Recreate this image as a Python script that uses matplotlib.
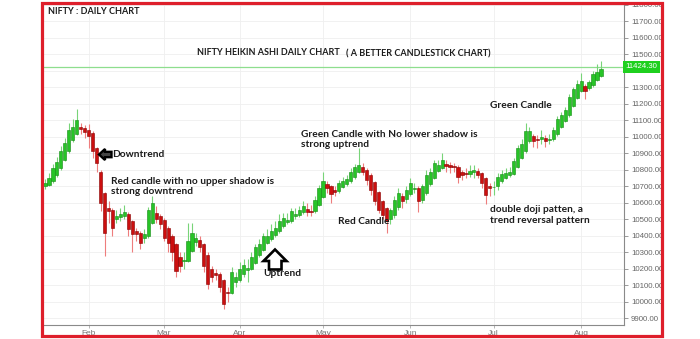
import numpy as np
import pandas as pd
import matplotlib
matplotlib.use("Agg")
import matplotlib.pyplot as plt
from matplotlib.patches import Rectangle, Polygon
from matplotlib.ticker import FixedLocator, FuncFormatter

# ---------------- data ----------------
holidays = ["2018-01-26", "2018-02-13", "2018-03-02", "2018-03-29", "2018-03-30", "2018-05-01"]
dates = pd.bdate_range("2018-01-16", "2018-08-08", freq="C", holidays=holidays)

ha_open = [10700, 10711, 10730, 10770, 10810, 10862, 10913, 10979, 11020, 11060,
           11055, 11042, 11025, 10930, 10790, 10660, 10570, 10560, 10505, 10512,
           10522, 10535, 10488, 10430, 10418, 10386, 10400, 10480, 10540, 10520,
           10497, 10445, 10400, 10350, 10270, 10245, 10250, 10310, 10365, 10378,
           10354, 10287, 10200, 10175, 10168, 10130, 10060, 10056, 10118, 10134,
           10167, 10195, 10200, 10235, 10282, 10316, 10358, 10379, 10405, 10427,
           10460, 10485, 10490, 10520, 10527, 10543, 10562, 10553, 10549, 10585,
           10637, 10715, 10702, 10678, 10673, 10696, 10715, 10730, 10760, 10788,
           10815, 10802, 10771, 10725, 10668, 10612, 10568, 10500, 10527, 10573,
           10640, 10625, 10652, 10686, 10689, 10620, 10660, 10715, 10752, 10796,
           10813, 10838, 10831, 10826, 10820, 10790, 10780, 10777, 10786, 10793,
           10782, 10751, 10700, 10694, 10700, 10730, 10754, 10767, 10778, 10816,
           10873, 10916, 10975, 11005, 10990, 10986, 10993, 10984, 10987, 11016,
           11063, 11099, 11132, 11188, 11239, 11280, 11310, 11295, 11315, 11348,
           11372]
ha_close = [10722, 10750, 10810, 10850, 10915, 10965, 11045, 11060, 11100, 11050,
            11030, 11008, 10915, 10840, 10600, 10420, 10550, 10445, 10520, 10532,
            10548, 10440, 10410, 10410, 10355, 10410, 10560, 10600, 10500, 10475,
            10390, 10360, 10300, 10190, 10220, 10252, 10370, 10420, 10390, 10330,
            10220, 10110, 10150, 10162, 10090, 9990, 10052, 10180, 10150, 10200,
            10222, 10205, 10270, 10330, 10350, 10400, 10400, 10430, 10450, 10490,
            10510, 10495, 10550, 10535, 10560, 10580, 10545, 10545, 10620, 10690,
            10735, 10690, 10655, 10668, 10720, 10733, 10745, 10790, 10815, 10830,
            10790, 10740, 10680, 10610, 10555, 10525, 10492, 10555, 10620, 10660,
            10610, 10680, 10720, 10692, 10610, 10700, 10770, 10790, 10840, 10830,
            10862, 10825, 10820, 10815, 10760, 10770, 10776, 10795, 10800, 10770,
            10720, 10650, 10693, 10697, 10760, 10778, 10780, 10790, 10855, 10930,
            10960, 11035, 11035, 10975, 10982, 11000, 10975, 10990, 11045, 11110,
            11135, 11165, 11245, 11290, 11320, 11340, 11280, 11335, 11380, 11395,
            11410]
ha_high = [10745, 10780, 10835, 10880, 10945, 10995, 11085, 11110, 11170, 11085,
           11075, 11080, 11035, 10940, 10800, 10665, 10610, 10570, 10560, 10570,
           10590, 10545, 10495, 10445, 10430, 10440, 10575, 10640, 10580, 10530,
           10510, 10460, 10410, 10360, 10300, 10300, 10480, 10480, 10420, 10400,
           10360, 10300, 10220, 10200, 10180, 10140, 10090, 10210, 10180, 10240,
           10260, 10260, 10300, 10350, 10380, 10420, 10440, 10470, 10490, 10530,
           10540, 10540, 10570, 10570, 10580, 10610, 10600, 10590, 10640, 10710,
           10785, 10730, 10710, 10700, 10740, 10760, 10770, 10810, 10835, 10930,
           10840, 10810, 10780, 10735, 10675, 10620, 10575, 10570, 10640, 10690,
           10660, 10700, 10750, 10720, 10700, 10715, 10800, 10810, 10860, 10860,
           10900, 10860, 10850, 10840, 10830, 10800, 10810, 10830, 10830, 10810,
           10790, 10760, 10720, 10730, 10780, 10800, 10810, 10815, 10870, 10950,
           10990, 11085, 11060, 11015, 11010, 11040, 11010, 11020, 11060, 11130,
           11150, 11180, 11260, 11305, 11345, 11385, 11320, 11345, 11400, 11440,
           11460]
ha_low = [10685, 10700, 10720, 10760, 10800, 10855, 10905, 10970, 11010, 11020,
          10995, 10930, 10870, 10790, 10550, 10280, 10480, 10400, 10480, 10490,
          10500, 10400, 10300, 10370, 10320, 10360, 10390, 10470, 10480, 10440,
          10370, 10300, 10250, 10150, 10180, 10200, 10240, 10300, 10340, 10300,
          10180, 10080, 10120, 10130, 10060, 9960, 10000, 10045, 10090, 10120,
          10150, 10120, 10195, 10230, 10275, 10310, 10350, 10370, 10395, 10420,
          10450, 10470, 10480, 10505, 10515, 10535, 10520, 10520, 10540, 10580,
          10630, 10660, 10600, 10640, 10660, 10690, 10700, 10720, 10745, 10780,
          10770, 10710, 10650, 10590, 10540, 10500, 10420, 10470, 10510, 10560,
          10570, 10600, 10640, 10660, 10545, 10600, 10650, 10705, 10745, 10785,
          10805, 10790, 10780, 10790, 10720, 10740, 10750, 10760, 10750, 10750,
          10690, 10595, 10640, 10650, 10680, 10720, 10745, 10760, 10770, 10810,
          10865, 10905, 10965, 10940, 10935, 10960, 10940, 10960, 10975, 11005,
          11055, 11090, 11120, 11180, 11230, 11270, 11233, 11285, 11305, 11340,
          11365]

month_labels = ["Feb", "Mar", "Apr", "May", "Jun", "Jul", "Aug"]
price_ticks = [9900, 10000, 10100, 10200, 10300, 10400, 10500, 10600, 10700, 10800,
               10900, 11000, 11100, 11200, 11300, 11400, 11500, 11600, 11700, 11800]
last_price = 11424.30

# ---------------- figure ----------------
W, H = 700, 339
fig = plt.figure(figsize=(W / 100, H / 100), dpi=100)
fig.patch.set_facecolor("white")


def fx(px):
    return px / W


def fy(py):
    return 1 - py / H


ax = fig.add_axes([fx(43), fy(325), (624 - 43) / W, (325 - 3) / H])

x = np.arange(len(dates))
o = np.array(ha_open, dtype=float)
c = np.array(ha_close, dtype=float)
h = np.array(ha_high, dtype=float)
l = np.array(ha_low, dtype=float)
up = c >= o

body_col = np.where(up, "#27c427", "#cc0f0f")
edge_col = np.where(up, "#148a14", "#850000")
wick_col = np.where(up, "#78d478", "#ee7d7d")

ax.vlines(x, l, h, colors=wick_col, lw=0.8, zorder=2)
ax.bar(x, np.maximum(np.abs(c - o), 3), bottom=np.minimum(o, c), width=0.8,
       color=body_col, edgecolor=edge_col, linewidth=0.4, zorder=3)

ax.axhline(last_price, color="#8ede8e", lw=0.9, zorder=1)
ax.text(1.003, last_price, f"{last_price:.2f}", transform=ax.get_yaxis_transform(),
        ha="left", va="center", fontsize=5.6, color="white", family="Liberation Sans",
        bbox=dict(boxstyle="square,pad=0.3", fc="#1fd01f", ec="none"), clip_on=False, zorder=5)

ax.set_xlim(-0.5, 145.8)
ax.set_ylim(9860, 11812)

names = list(dates.strftime("%b"))
month_pos = [names.index(m) for m in month_labels]
ax.xaxis.set_major_locator(FixedLocator(month_pos))
ax.set_xticklabels(month_labels)
ax.yaxis.set_major_locator(FixedLocator(price_ticks))
# the tick label hidden behind the last-price box is left blank
ax.yaxis.set_major_formatter(FuncFormatter(
    lambda v, p: "" if abs(v - last_price) < 50 else f"{v:.2f}"))
ax.yaxis.tick_right()

for s in ["left", "top"]:
    ax.spines[s].set_visible(False)
for s in ["right", "bottom"]:
    ax.spines[s].set_color("#8a8a8a")
    ax.spines[s].set_linewidth(0.8)

ax.tick_params(axis="y", labelsize=5.7, colors="#8a8a8a", labelcolor="#666666",
               length=3, width=0.6, pad=2)
ax.tick_params(axis="x", labelsize=6, colors="#aaaaaa", labelcolor="#777777",
               length=2, width=0.6, pad=1.5)
for lab in ax.get_xticklabels() + ax.get_yticklabels():
    lab.set_family("Liberation Sans")

ax.grid(True, color="#efefef", lw=0.6, zorder=0)
ax.set_axisbelow(True)

# ---------------- annotations ----------------
tfont = dict(family=["Lato", "DejaVu Sans"], fontweight="bold", color="#1c1c1c",
             ha="left", va="center")
big = 7.3
cap = 6.5

fig.text(fx(48), fy(12), "NIFTY : DAILY CHART", fontsize=cap, **tfont)
fig.text(fx(197), fy(52.5), "NIFTY HEIKIN ASHI DAILY CHART", fontsize=cap, **tfont)
fig.text(fx(346), fy(54), "( A BETTER CANDLESTICK CHART)", fontsize=cap, **tfont)
fig.text(fx(301), fy(134.5), "Green Candle with No lower shadow is", fontsize=big, **tfont)
fig.text(fx(301), fy(145), "strong uptrend", fontsize=big, **tfont)
fig.text(fx(490), fy(105), "Green Candle", fontsize=big, **tfont)
fig.text(fx(111), fy(181), "Red candle with no upper shadow is", fontsize=big, **tfont)
fig.text(fx(111), fy(191.5), "strong downtrend", fontsize=big, **tfont)
fig.text(fx(112), fy(154.5), "Downtrend", fontsize=big, **tfont)
fig.text(fx(263), fy(273.5), "Uptrend", fontsize=big, **tfont)
fig.text(fx(338), fy(222), "Red Candle", fontsize=big, **tfont)
fig.text(fx(490), fy(210), "double doji patten, a", fontsize=big, **tfont)
fig.text(fx(490), fy(220.5), "trend reversal pattern", fontsize=big, **tfont)

left_arrow = [(99, 154.5), (105, 149), (105, 151.8), (111.5, 151.8), (111.5, 157.2),
              (105, 157.2), (105, 160)]
fig.add_artist(Polygon([(fx(a), fy(b)) for a, b in left_arrow], closed=True,
                       transform=fig.transFigure, fc="#444444", ec="black", lw=1.7, zorder=6))
up_arrow = [(275, 249.5), (286.5, 261), (281.5, 261), (281.5, 269.5), (269, 269.5),
            (269, 261), (263.5, 261)]
fig.add_artist(Polygon([(fx(a), fy(b)) for a, b in up_arrow], closed=True,
                       transform=fig.transFigure, fc="white", ec="black", lw=1.9, zorder=6))

# ---------------- frame ----------------
fig.add_artist(Rectangle((fx(663), 0), 1, 1, transform=fig.transFigure,
                         fc="white", ec="none", zorder=19))
fig.add_artist(Rectangle((0, 0), 1, fy(337), transform=fig.transFigure,
                         fc="white", ec="none", zorder=19))
fig.add_artist(Rectangle((fx(41.5), fy(336)), (662 - 41.5) / W, (336 - 3) / H,
                         transform=fig.transFigure, fill=False, ec="#de1f2b",
                         lw=2.3, zorder=20))

fig.savefig("out.png", dpi=100)
